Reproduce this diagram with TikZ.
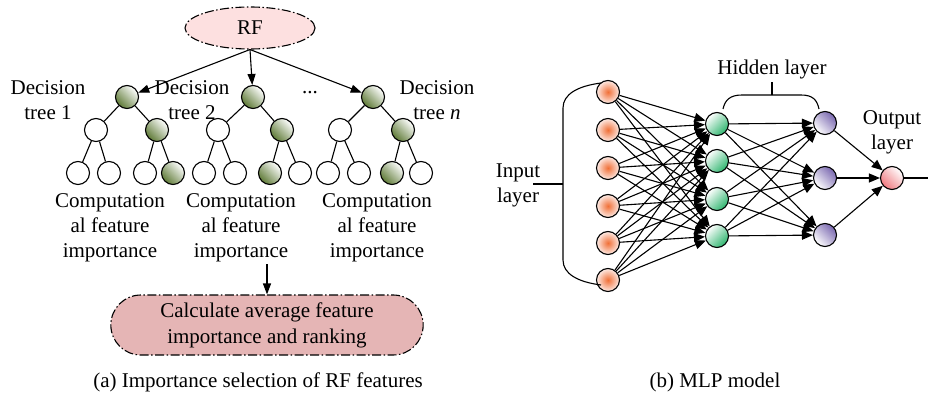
\documentclass[tikz,border=0pt]{standalone}
\usepackage{fontspec}
\setmainfont{LiberationSerif}[Extension=.ttf,UprightFont=*-Regular,ItalicFont=*-Italic,BoldFont=*-Bold]
\usetikzlibrary{arrows.meta,shapes.geometric,shapes.misc}

\definecolor{rfpink}{HTML}{FDE0E0}
\definecolor{boxred}{HTML}{E5B5B5}
\definecolor{treegreen}{HTML}{5E7A36}
\definecolor{inorange}{HTML}{F07038}
\definecolor{inpale}{HTML}{FDEAE4}
\definecolor{hidgreen}{HTML}{2EB56E}
\definecolor{hidpurple}{HTML}{7A68B0}
\definecolor{outpink}{HTML}{F07A80}

\begin{document}
\begin{tikzpicture}[x=1pt,y=-1pt,line width=1.1pt,
  every node/.style={font=\fontsize{21}{25}\selectfont},
  dashdot/.style={dash pattern=on 9pt off 2.5pt on 1.5pt off 2.5pt},
  tnode/.style={circle,draw,minimum size=23pt,inner sep=0pt,fill=white},
  tshade/.style={tnode,left color=white,right color=treegreen,shading angle=-45},
  tarr/.style={-{Triangle[length=11pt,width=8pt]}},
  narr/.style={-{Triangle[length=11pt,width=9pt]}},
  inode/.style={circle,draw,minimum size=23pt,inner sep=0pt,inner color=inorange,outer color=inpale},
  hnode/.style={circle,draw,minimum size=23pt,inner sep=0pt,left color=white,right color=hidgreen,shading angle=45},
  gnode/.style={circle,draw,minimum size=23pt,inner sep=0pt,left color=hidpurple,right color=white,shading angle=-45},
  onode/.style={circle,draw,minimum size=23pt,inner sep=0pt,left color=white,right color=outpink,shading angle=-45},
  txt/.style={align=center,inner sep=0pt}
]
\useasboundingbox (0,0) rectangle (928,395);

% ---------------- (a) random forest ----------------
\node[ellipse,draw,dashdot,fill=rfpink,minimum width=130pt,minimum height=42pt] (rf) at (250,28) {RF};

% tree 1
\node[tshade] (r1) at (127,97) {};
\node[tnode]  (a1) at (96,130) {};
\node[tshade] (b1) at (157,130) {};
\node[tnode]  (l11) at (78,173) {};
\node[tnode]  (l12) at (109,173) {};
\node[tnode]  (l13) at (145,173) {};
\node[tshade] (l14) at (173,173) {};
% tree 2
\node[tshade] (r2) at (253,97) {};
\node[tnode]  (a2) at (218,130) {};
\node[tshade] (b2) at (282,130) {};
\node[tnode]  (l21) at (204,173) {};
\node[tnode]  (l22) at (235,173) {};
\node[tshade] (l23) at (270,173) {};
\node[tnode]  (l24) at (300,173) {};
% tree 3
\node[tshade] (r3) at (373,97) {};
\node[tnode]  (a3) at (340,130) {};
\node[tshade] (b3) at (403,130) {};
\node[tnode]  (l31) at (328,173) {};
\node[tnode]  (l32) at (359,173) {};
\node[tshade] (l33) at (392,173) {};
\node[tnode]  (l34) at (421,173) {};

\foreach \t in {1,2,3}{
  \draw (r\t) -- (a\t);
  \draw (r\t) -- (b\t);
  \draw (a\t) -- (l\t1);
  \draw (a\t) -- (l\t2);
  \draw (b\t) -- (l\t3);
  \draw (b\t) -- (l\t4);
}

\draw[tarr] (rf.south) -- (r1);
\draw[tarr] (rf.south) -- (r2);
\draw[tarr] (rf.south) -- (r3);

\node[txt] (d1) at (48,100) {Decision\\tree 1};
\node[txt] (d2) at (192,100) {Decision\\tree 2};
\node[txt] (d3) at (437,100) {Decision\\tree \textit{n}};
\node[txt] (dots) at (310,93) {...};

\node[txt] (c1) at (110,228) {Computation\\al feature\\importance};
\node[txt] (c2) at (241,228) {Computation\\al feature\\importance};
\node[txt] (c3) at (377,228) {Computation\\al feature\\importance};

\node[rounded rectangle,draw,dashdot,fill=boxred,minimum width=319pt,minimum height=60pt,
      align=center,font=\fontsize{21}{26}\selectfont] (avg) at (267,325)
      {Calculate average feature\\importance and ranking};
\coordinate (cs) at (267,264);
\draw[tarr] (cs) -- (avg.north);

\node[txt] (capa) at (258,382) {(a) Importance selection of RF features};

% ---------------- (b) MLP ----------------
\foreach \i/\y in {1/92,2/130,3/168,4/206,5/243,6/280}
  \node[inode] (i\i) at (608,\y) {};
\foreach \i/\y in {1/124,2/161,3/199,4/236}
  \node[hnode] (h\i) at (717,\y) {};
\foreach \i/\y in {1/123,2/178,3/235}
  \node[gnode] (g\i) at (825,\y) {};
\node[onode] (o) at (892,178) {};

\foreach \i in {1,...,6}
  \foreach \j in {1,...,4}
    \draw[narr] (i\i) -- (h\j);
\foreach \i in {1,...,4}
  \foreach \j in {1,...,3}
    \draw[narr] (h\i) -- (g\j);
\foreach \j in {1,...,3}
  \draw[narr] (g\j) -- (o);
\coordinate (oe) at (928,178);
\draw (o) -- (oe);

% input-layer bracket
\draw (601,83) .. controls (578,86) and (563,94) .. (563,108) -- (563,260)
      .. controls (563,274) and (578,282) .. (601,285);
\draw (533,184) -- (563,184);
\node[txt] (inl) at (518,185) {Input\\layer};

% hidden-layer brace
\draw (723,109) .. controls (725,100) and (730,95) .. (742,95) -- (801,95)
      .. controls (813,95) and (817,100) .. (819,109);
\draw (772,95) -- (772,82);
\node[txt] (hid) at (772,69) {Hidden layer};

\node[txt] (outl) at (892,132) {Output\\layer};

\node[txt] (capb) at (715,382) {(b) MLP model};
\end{tikzpicture}
\end{document}
